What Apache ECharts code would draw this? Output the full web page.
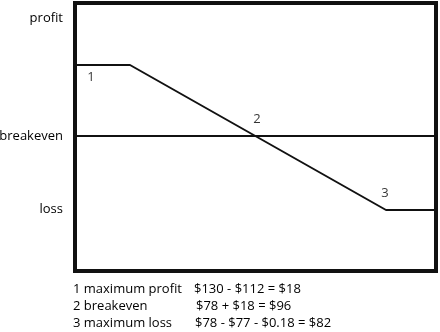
<!DOCTYPE html>
<html><head><meta charset="utf-8">
<script src="https://cdn.jsdelivr.net/npm/echarts@6/dist/echarts.min.js"></script>
<style>html,body{margin:0;padding:0;background:#fff}#c{width:440px;height:332px}</style>
</head><body><div id="c"></div>
<script>
// abstract payoff units
const payoffX = [0, 55, 311, 361];
const payoffY = [71, 71, -74, -74];
const breakevenX = [0, 361];
const breakevenY = [0, 0];
const yTickValues = [118, 0, -73];
const yTickLabels = ['profit', 'breakeven', 'loss'];
const markerX = [16, 182, 310];
const markerY = [59, 17, -57];
const markerLabels = ['1', '2', '3'];
const noteLabels = ['1 maximum profit', '2 breakeven', '3 maximum loss'];
const noteFormulas = ['$130 - $112 = $18', '$78 + $18 = $96', '$78 - $77 - $0.18 = $82'];

const FONT = 'Open Sans';
const chart = echarts.init(document.getElementById('c'), null, {renderer: 'canvas'});
const notes = [];
const noteMid = [289, 306, 323];
const formulaX = [194, 196, 195];
noteLabels.forEach((t, i) => {
  notes.push({type: 'text', x: 73, y: noteMid[i],
    style: {text: t, font: '13px ' + FONT, fill: '#000', verticalAlign: 'middle'}});
  notes.push({type: 'text', x: formulaX[i], y: noteMid[i],
    style: {text: noteFormulas[i], font: '13px ' + FONT, fill: '#000', verticalAlign: 'middle'}});
});
chart.setOption({
  animation: false,
  grid: {left: 75, right: 4, top: 3, bottom: 61, show: true, borderColor: '#111', borderWidth: 4, backgroundColor: 'transparent', outerBoundsMode: 'none'},
  xAxis: {type: 'value', min: 0, max: 361, show: true, axisLine: {show: false}, axisTick: {show: false}, axisLabel: {show: false}, splitLine: {show: false}},
  yAxis: {type: 'value', min: -135, max: 133,
    axisLine: {show: false}, axisTick: {show: false}, splitLine: {show: false},
    axisLabel: {customValues: yTickValues, margin: 12, color: '#000', fontFamily: FONT, fontSize: 13,
      formatter: v => { const i = yTickValues.indexOf(v); return i >= 0 ? yTickLabels[i] : ''; }}},
  series: [
    {type: 'line', data: payoffX.map((x, i) => [x, payoffY[i]]), showSymbol: false, symbol: 'none',
      lineStyle: {color: '#111', width: 2}},
    {type: 'line', data: breakevenX.map((x, i) => [x, breakevenY[i]]), showSymbol: false, symbol: 'none',
      lineStyle: {color: '#111', width: 2}},
    {type: 'scatter', data: markerX.map((x, i) => [x, markerY[i]]), symbolSize: 0,
      label: {show: true, position: 'inside', formatter: p => markerLabels[p.dataIndex], color: '#000', fontFamily: FONT, fontSize: 13}}
  ],
  graphic: notes
});
</script></body></html>
